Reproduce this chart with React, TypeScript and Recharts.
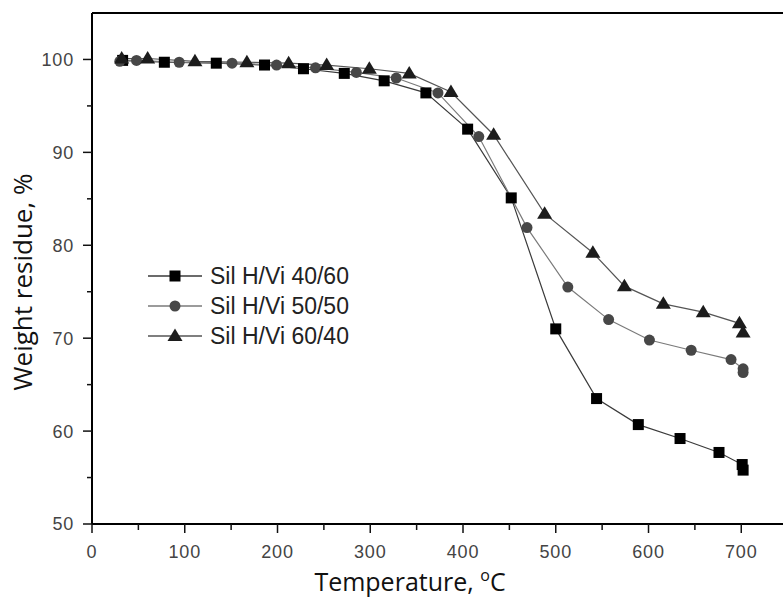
import React from 'react';
import { ComposedChart, Line, XAxis, YAxis, ReferenceLine, Legend, Label } from 'recharts';

// ---- data ----
const seriesNames = ['Sil H/Vi 40/60', 'Sil H/Vi 50/50', 'Sil H/Vi 60/40'];

const tempA = [33, 78, 134, 186, 228, 272, 315, 360, 405, 452, 500, 544, 589, 634, 676, 701, 702];
const weightA = [99.9, 99.7, 99.6, 99.4, 99.0, 98.5, 97.7, 96.4, 92.5, 85.1, 71.0, 63.5, 60.7, 59.2, 57.7, 56.4, 55.8];

const tempB = [30, 48, 94, 151, 199, 241, 285, 328, 373, 417, 469, 513, 557, 601, 646, 689, 702, 702];
const weightB = [99.8, 99.9, 99.7, 99.6, 99.4, 99.1, 98.6, 98.0, 96.4, 91.7, 81.9, 75.5, 72.0, 69.8, 68.7, 67.7, 66.7, 66.3];

const tempC = [32, 60, 111, 167, 212, 253, 299, 342, 387, 433, 488, 540, 574, 616, 659, 698, 702];
const weightC = [100.1, 100.1, 99.8, 99.7, 99.6, 99.4, 99.0, 98.5, 96.5, 91.9, 83.4, 79.2, 75.6, 73.7, 72.8, 71.6, 70.6];

const xTicks = [0, 50, 100, 150, 200, 250, 300, 350, 400, 450, 500, 550, 600, 650, 700];
const xTickLabels = [0, 100, 200, 300, 400, 500, 600, 700];
const yTicks = [50, 55, 60, 65, 70, 75, 80, 85, 90, 95, 100];
const yTickLabels = [50, 60, 70, 80, 90, 100];

const xDomain: [number, number] = [0, 745];
const yDomain: [number, number] = [50, 105];

const toRows = (t: number[], w: number[]) => t.map((v, i) => ({ t: v, w: w[i] }));
const dataA = toRows(tempA, weightA);
const dataB = toRows(tempB, weightB);
const dataC = toRows(tempC, weightC);

// ---- styles ----
const tickFont = "'Liberation Sans', Arial, sans-serif";
const titleFont = "'Open Sans', sans-serif";

const markerColor: Record<string, string> = {
  [seriesNames[0]]: '#000000',
  [seriesNames[1]]: '#474747',
  [seriesNames[2]]: '#1c1c1c',
};
const lineColor: Record<string, string> = {
  [seriesNames[0]]: '#3a3a3a',
  [seriesNames[1]]: '#7a7a7a',
  [seriesNames[2]]: '#555555',
};

const Marker = ({ kind, cx, cy, color }: { kind: number; cx: number; cy: number; color: string }) => {
  if (kind === 0) return <rect x={cx - 5.5} y={cy - 5.5} width={11} height={11} fill={color} />;
  if (kind === 1) return <circle cx={cx} cy={cy} r={5.5} fill={color} />;
  return <polygon points={`${cx},${cy - 7.5} ${cx - 7.5},${cy + 5} ${cx + 7.5},${cy + 5}`} fill={color} />;
};

const makeDot = (kind: number) => (p: any) => {
  if (p.cx == null || p.cy == null) return <g key={`n${p.index}`} />;
  return (
    <g key={`d${kind}-${p.index}`}>
      <Marker kind={kind} cx={p.cx} cy={p.cy} color={markerColor[seriesNames[kind]]} />
    </g>
  );
};

const XTick = (props: any) => {
  const { x, y, payload } = props;
  const major = xTickLabels.includes(payload.value);
  return (
    <g>
      <line x1={x} x2={x} y1={y} y2={y + (major ? 9 : 6)} stroke="#111" strokeWidth={1.5} />
      {major && (
        <text x={x} y={y + 34} textAnchor="middle" fontFamily={tickFont} fontSize={18} letterSpacing={0.8} fill="#444">
          {payload.value}
        </text>
      )}
    </g>
  );
};

const YTick = (props: any) => {
  const { x, y, payload } = props;
  const major = yTickLabels.includes(payload.value);
  return (
    <g>
      <line x1={x - (major ? 9 : 5)} x2={x} y1={y} y2={y} stroke="#111" strokeWidth={1.5} />
      {major && (
        <text x={x - 18} y={y} dy="0.36em" textAnchor="end" fontFamily={tickFont} fontSize={18} letterSpacing={0.8} fill="#444">
          {payload.value}
        </text>
      )}
    </g>
  );
};

const LegendBox = (props: any) => {
  const payload = props.payload || [];
  return (
    <div>
      {payload.map((entry: any) => {
        const name = entry.value as string;
        const kind = seriesNames.indexOf(name);
        return (
          <div key={name} style={{ display: 'flex', alignItems: 'center', height: 30 }}>
            <svg width={62} height={30} style={{ display: 'block' }}>
              <line x1={0} x2={54} y1={15} y2={15} stroke={lineColor[name]} strokeWidth={1.5} />
              <Marker kind={kind} cx={27} cy={15} color={markerColor[name]} />
            </svg>
            <span style={{ fontFamily: tickFont, fontSize: 23, color: '#222', lineHeight: '30px', whiteSpace: 'nowrap' }}>
              {name}
            </span>
          </div>
        );
      })}
    </div>
  );
};

const XTitle = (props: any) => {
  const vb = props.viewBox || { x: 0, y: 0, width: 0, height: 0 };
  return (
    <text x={vb.x + 318} y={vb.y + 67} textAnchor="middle" fontFamily={titleFont} fontSize={25} fill="#111">
      Temperature,{' '}
      <tspan fontSize={16} dy={-10}>o</tspan>
      <tspan dy={10}>C</tspan>
    </text>
  );
};

const YTitle = (props: any) => {
  const vb = props.viewBox || { x: 0, y: 0, width: 0, height: 0 };
  const cx = vb.x + 32;
  const cy = 282;
  return (
    <text x={cx} y={cy} transform={`rotate(-90 ${cx} ${cy})`} textAnchor="middle" fontFamily={titleFont} fontSize={26} fill="#111">
      Weight residue, %
    </text>
  );
};

export default function App() {
  return (
    <div style={{ position: 'absolute', left: 0, top: 0, width: 783, height: 598, background: '#fff' }}>
      <ComposedChart width={783} height={598} margin={{ top: 13, right: 0, bottom: 0, left: 0 }}>
        <XAxis
          type="number"
          dataKey="t"
          domain={xDomain}
          ticks={xTicks}
          allowDataOverflow
          height={74}
          tickSize={0}
          tickMargin={0}
          tickLine={false}
          tick={<XTick />}
          axisLine={{ stroke: '#000', strokeWidth: 2 }}
          interval={0}
        >
          <Label content={<XTitle />} />
        </XAxis>
        <YAxis
          type="number"
          dataKey="w"
          domain={yDomain}
          ticks={yTicks}
          allowDataOverflow
          width={92}
          tickSize={0}
          tickMargin={0}
          tickLine={false}
          tick={<YTick />}
          axisLine={{ stroke: '#000', strokeWidth: 2 }}
          interval={0}
        >
          <Label content={<YTitle />} />
        </YAxis>
        <ReferenceLine y={105} stroke="#000" strokeWidth={2} ifOverflow="visible" />
        <Line
          data={dataA}
          dataKey="w"
          name={seriesNames[0]}
          stroke={lineColor[seriesNames[0]]}
          strokeWidth={1.2}
          dot={makeDot(0)}
          activeDot={false}
          isAnimationActive={false}
        />
        <Line
          data={dataB}
          dataKey="w"
          name={seriesNames[1]}
          stroke={lineColor[seriesNames[1]]}
          strokeWidth={1.2}
          dot={makeDot(1)}
          activeDot={false}
          isAnimationActive={false}
        />
        <Line
          data={dataC}
          dataKey="w"
          name={seriesNames[2]}
          stroke={lineColor[seriesNames[2]]}
          strokeWidth={1.2}
          dot={makeDot(2)}
          activeDot={false}
          isAnimationActive={false}
        />
        <Legend
          content={<LegendBox />}
          layout="vertical"
          align="center"
          verticalAlign="middle"
          wrapperStyle={{ position: 'absolute', left: 148, top: 261, width: 260, bottom: 'auto', right: 'auto' }}
        />
      </ComposedChart>
    </div>
  );
}
